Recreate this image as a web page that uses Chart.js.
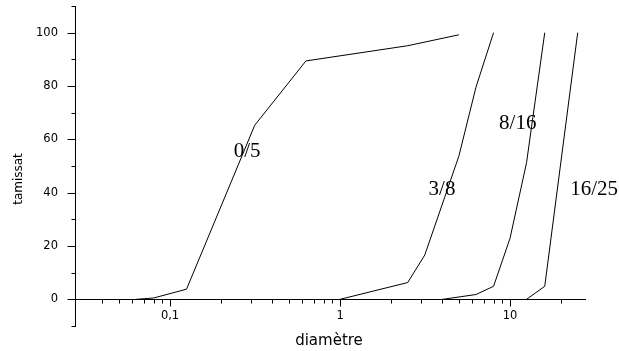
<!DOCTYPE html>
<html>
<head>
<meta charset="utf-8">
<script src="https://cdn.jsdelivr.net/npm/chart.js@4"></script>
<style>
    html, body { margin: 0; padding: 0; background: #fff; }
    #wrap { width: 619px; height: 351px; }
</style>
</head>
<body>
<div id="wrap"><canvas id="granuloChart" width="619" height="351"></canvas></div>
<script>
// Courbes granulométriques (diamètre en mm, tamisat en %)
const d05 = [0.063, 0.08, 0.125, 0.315, 0.63, 2.5, 5];
const t05 = [0, 0.5, 3.8, 65.3, 89.4, 95.1, 99.2];

const d38 = [1, 2.5, 3.15, 5, 6.3, 8];
const t38 = [0, 6.3, 16.6, 53.7, 79.5, 100];

const d816 = [4, 6.3, 8, 10, 12.5, 16];
const t816 = [0, 1.8, 4.9, 22.9, 51.2, 100];

const d1625 = [12.5, 16, 25];
const t1625 = [0, 4.9, 100];

// Noms des classes et point d'ancrage (en unités du graphe)
const curveNames = ['0/5', '3/8', '8/16', '16/25'];
const nameAtX = [0.284, 3.98, 11.1, 31.2];
const nameAtY = [55.5, 41.1, 66, 41.1];

// Graduations
const xTickValues = [0.1, 1, 10];
const xTickLabels = ['0,1', '1', '10'];
const yTickLabels = ['0', '20', '40', '60', '80', '100'];

function toPoints(xs, ys) {
    return xs.map((x, i) => ({ x: x, y: ys[i] }));
}

function curve(xs, ys) {
    return {
        data: toPoints(xs, ys),
        borderColor: '#000',
        borderWidth: 1,
        pointRadius: 0,
        fill: false,
        tension: 0
    };
}

// pas de marge automatique autour des axes
function noPadding(scale) {
    scale.paddingTop = 0;
    scale.paddingBottom = 0;
    scale.paddingLeft = 0;
    scale.paddingRight = 0;
}

// Petites et grandes graduations dessinées à partir des échelles
const tickMarks = {
    id: 'tickMarks',
    afterDraw(chart) {
        const ctx = chart.ctx;
        const xs = chart.scales.x;
        const ys = chart.scales.y;
        const axisY = Math.round(ys.getPixelForValue(0)) + 0.5;
        const axisX = Math.round(chart.chartArea.left) + 0.5;

        ctx.save();
        ctx.strokeStyle = '#000';
        ctx.lineWidth = 1;
        ctx.beginPath();

        xs.ticks.forEach(t => {
            const v = t.value;
            if (v <= xs.min * 1.001 || v >= xs.max * 0.999) return;
            const e = Math.floor(Math.log10(v) + 1e-9);
            const m = v / Math.pow(10, e);
            if (Math.abs(m - Math.round(m)) > 1e-6) return;
            const len = Math.round(m) === 1 ? 7 : 4;
            const px = Math.round(xs.getPixelForValue(v)) + 0.5;
            ctx.moveTo(px, axisY);
            ctx.lineTo(px, axisY + len);
        });

        ys.ticks.forEach(t => {
            const len = t.value % 20 === 0 ? 8 : 4;
            const py = Math.round(ys.getPixelForValue(t.value)) + 0.5;
            ctx.moveTo(axisX, py);
            ctx.lineTo(axisX - len, py);
        });

        ctx.stroke();
        ctx.restore();
    }
};

// Noms des courbes et titres des axes
const curveLabels = {
    id: 'curveLabels',
    afterDraw(chart) {
        const ctx = chart.ctx;
        const xs = chart.scales.x;
        const ys = chart.scales.y;

        ctx.save();
        ctx.fillStyle = '#000';
        ctx.textAlign = 'center';
        ctx.textBaseline = 'middle';
        ctx.font = '21px "Liberation Serif", serif';
        curveNames.forEach((name, i) => {
            ctx.fillText(name, xs.getPixelForValue(nameAtX[i]), ys.getPixelForValue(nameAtY[i]));
        });

        ctx.font = '15px "DejaVu Sans", sans-serif';
        ctx.fillText('diamètre', 329, 341);

        ctx.translate(19, 179);
        ctx.rotate(-Math.PI / 2);
        ctx.font = '12px "DejaVu Sans", sans-serif';
        ctx.fillText('tamissat', 0, 0);
        ctx.restore();
    }
};

const tickFont = { family: '"DejaVu Sans", sans-serif', size: 11.5 };

document.addEventListener('DOMContentLoaded', function() {
    const ctx = document.getElementById('granuloChart').getContext('2d');
    new Chart(ctx, {
        type: 'line',
        data: {
            datasets: [
                curve(d05, t05),
                curve(d38, t38),
                curve(d816, t816),
                curve(d1625, t1625)
            ]
        },
        options: {
            responsive: false,
            animation: false,
            layout: {
                padding: { left: 0, right: 34, top: 6, bottom: 25 }
            },
            plugins: {
                legend: { display: false },
                tooltip: { enabled: false }
            },
            scales: {
                x: {
                    type: 'logarithmic',
                    position: { y: 0 },
                    min: 0.0276,
                    max: 27.6,
                    afterFit: noPadding,
                    border: { display: true, color: '#000', width: 1 },
                    grid: {
                        drawOnChartArea: false,
                        drawTicks: true,
                        tickLength: 7,
                        color: 'rgba(0,0,0,0)'
                    },
                    ticks: {
                        autoSkip: false,
                        maxRotation: 0,
                        padding: 3,
                        color: '#000',
                        font: tickFont,
                        callback: function(value) {
                            const i = xTickValues.findIndex(v => Math.abs(v - value) < v * 1e-6);
                            return i >= 0 ? xTickLabels[i] : '';
                        }
                    }
                },
                y: {
                    type: 'linear',
                    position: 'left',
                    min: -10,
                    max: 110,
                    afterFit: function(scale) {
                        noPadding(scale);
                        scale.width = 75;
                    },
                    border: { display: true, color: '#000', width: 1 },
                    grid: {
                        drawOnChartArea: false,
                        drawTicks: true,
                        tickLength: 7,
                        color: 'rgba(0,0,0,0)'
                    },
                    ticks: {
                        stepSize: 10,
                        autoSkip: false,
                        padding: 10,
                        color: '#000',
                        font: tickFont,
                        callback: function(value) {
                            const label = String(value);
                            return yTickLabels.includes(label) ? label : '';
                        }
                    }
                }
            }
        },
        plugins: [tickMarks, curveLabels]
    });
});
</script>
</body>
</html>
